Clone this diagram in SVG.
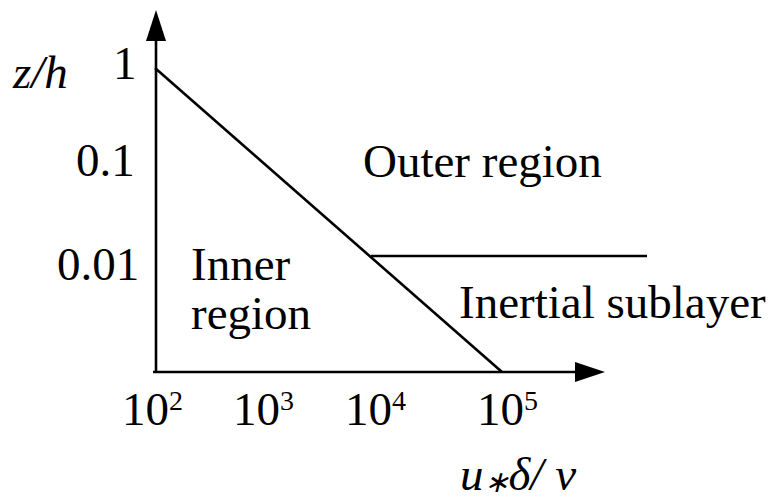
<svg xmlns="http://www.w3.org/2000/svg" width="777" height="504" viewBox="0 0 777 504">
<style>
.t{font-family:"Liberation Serif","Times New Roman",serif;font-size:47px;fill:#000}
.i{font-style:italic}
.ln{stroke:#000;stroke-width:2.6;fill:none}
.ah{fill:#000;stroke:none}
</style>
<rect width="777" height="504" fill="#fff"/>
<g id="connectors">
<line class="ln" x1="156" y1="373" x2="156" y2="38"/>
<polygon class="ah" points="156,10 146,41 166,41"/>
<line class="ln" x1="153" y1="372" x2="578" y2="372"/>
<polygon class="ah" points="605,372 575,362 575,382"/>
<line class="ln" x1="155" y1="68" x2="502" y2="372"/>
<line class="ln" x1="371" y1="256" x2="647" y2="256"/>
</g>
<g id="y-axis-labels">
<text class="t i" x="13" y="88">z/h</text>
<text class="t" x="113" y="79">1</text>
<text class="t" x="76" y="176">0.1</text>
<text class="t" x="57" y="280">0.01</text>
</g>
<g id="x-axis-labels">
<text class="t" x="122" y="425">10<tspan font-size="28" dy="-15">2</tspan></text>
<text class="t" x="233" y="425">10<tspan font-size="28" dy="-15">3</tspan></text>
<text class="t" x="345" y="425">10<tspan font-size="28" dy="-15">4</tspan></text>
<text class="t" x="477" y="425">10<tspan font-size="28" dy="-15">5</tspan></text>
<text class="t i" x="460" y="490">u<tspan font-size="30" dy="2">∗</tspan><tspan dy="-2">δ/ ν</tspan></text>
</g>
<g id="outer-region"><text class="t" x="363" y="177">Outer region</text></g>
<g id="inner-region"><text class="t" x="191" y="280">Inner</text><text class="t" x="191" y="329">region</text></g>
<g id="inertial-sublayer"><text class="t" x="459" y="318">Inertial sublayer</text></g>
</svg>
